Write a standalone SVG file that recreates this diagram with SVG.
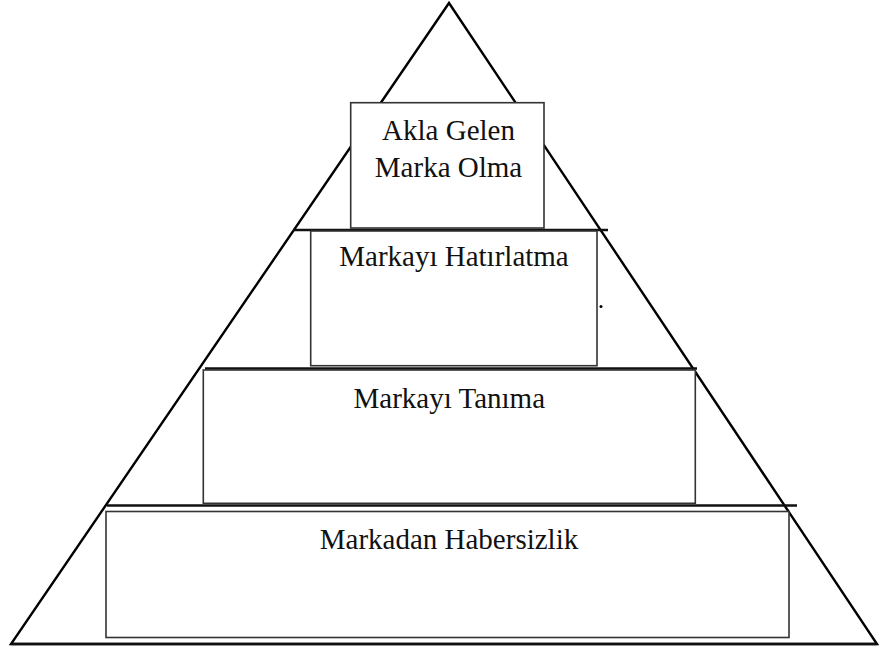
<svg xmlns="http://www.w3.org/2000/svg" width="882" height="649" viewBox="0 0 882 649">
  <style>
    .edge { fill: none; stroke: #000; stroke-width: 2.4; }
    .tier { fill: none; stroke: #111; stroke-width: 2.6; }
    .box { fill: #fff; stroke: #333; stroke-width: 1.6; }
    .label { font-family: "Liberation Serif", "Times New Roman", serif; font-size: 29px; fill: #111; text-anchor: middle; }
  </style>
  <rect width="882" height="649" fill="#fff"/>

  <!-- pyramid outline and tier dividers -->
  <g id="connectors">
    <polygon class="edge" points="449,3 877,644 11,644"/>
    <line class="tier" x1="293" y1="230" x2="608" y2="230"/>
    <line class="tier" x1="205" y1="368.5" x2="697" y2="368.5"/>
    <line class="tier" x1="107" y1="505.5" x2="797" y2="505.5"/>
    <line class="tier" x1="11" y1="644" x2="877" y2="644"/>
  </g>

  <g id="akla-gelen-marka">
    <rect class="box" x="350.7" y="102.7" width="193.3" height="125.3"/>
    <text class="label" x="448.5" y="140">Akla Gelen</text>
    <text class="label" x="448.5" y="177">Marka Olma</text>
  </g>

  <g id="markayi-hatirlatma">
    <rect class="box" x="310.7" y="231" width="286.3" height="134.7"/>
    <text class="label" x="454" y="266">Markayı Hatırlatma</text>
    <circle cx="601" cy="306.5" r="1.5" fill="#000"/>
  </g>

  <g id="markayi-tanima">
    <rect class="box" x="203.3" y="370" width="492" height="133.3"/>
    <text class="label" x="449.3" y="407.5">Markayı Tanıma</text>
  </g>

  <g id="markadan-habersizlik">
    <rect class="box" x="106" y="511.5" width="683" height="126"/>
    <text class="label" x="449" y="548.5">Markadan Habersizlik</text>
  </g>
</svg>
